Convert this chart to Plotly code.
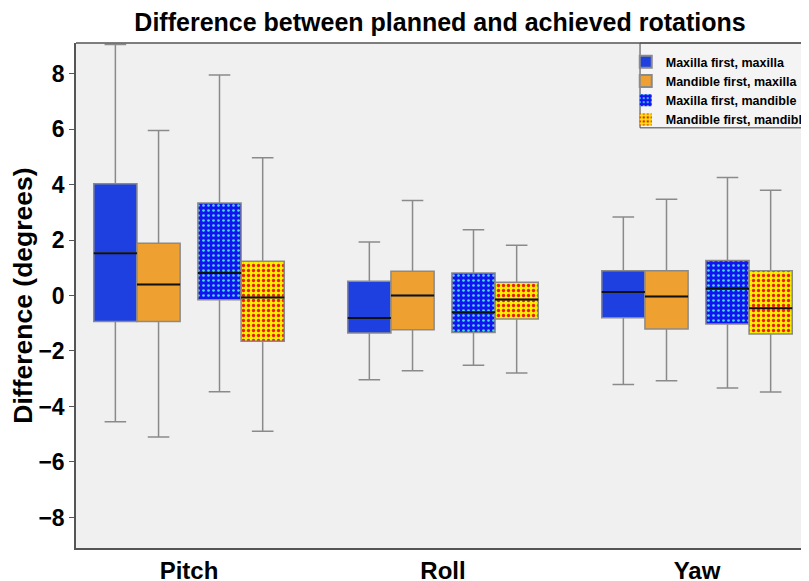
import plotly.graph_objects as go

categories = ["Pitch", "Roll", "Yaw"]
series_names = ["Maxilla first, maxilla", "Mandible first, maxilla",
                "Maxilla first, mandible", "Mandible first, mandible"]

# stats per series: [Pitch, Roll, Yaw]
upper = [
    [9.05, 1.93, 2.83],
    [5.95, 3.42, 3.47],
    [7.95, 2.37, 4.25],
    [4.96, 1.81, 3.79],
]
q3 = [
    [4.03, 0.51, 0.89],
    [1.88, 0.87, 0.89],
    [3.33, 0.81, 1.26],
    [1.23, 0.48, 0.89],
]
median = [
    [1.52, -0.81, 0.13],
    [0.40, 0.00, -0.04],
    [0.81, -0.60, 0.24],
    [-0.07, -0.14, -0.46],
]
q1 = [
    [-0.94, -1.35, -0.80],
    [-0.94, -1.23, -1.21],
    [-0.15, -1.33, -1.03],
    [-1.65, -0.85, -1.39],
]
lower = [
    [-4.55, -3.04, -3.21],
    [-5.10, -2.71, -3.07],
    [-3.47, -2.51, -3.33],
    [-4.89, -2.79, -3.48],
]

fills = ["#1f40e0", "#eea030", "#1414f0", "#f4f000"]
dots = [None, None, "#40e0f0", "#f01818"]
solidity = [0, 0, 0.22, 0.35]
offsets = [-0.29, -0.12, 0.12, 0.29]
W = 0.17
FONT = "Arial, Liberation Sans, sans-serif"

fig = go.Figure()

for i in range(4):
    xs = [c + offsets[i] for c in range(len(categories))]
    patterned = dots[i] is not None
    if patterned:
        fig.add_trace(go.Bar(
            x=xs, base=q1[i], y=[a - b for a, b in zip(q3[i], q1[i])],
            width=W, name=series_names[i], showlegend=True,
            marker=dict(color=fills[i],
                        line=dict(width=0),
                        pattern=dict(shape=".", fgcolor=dots[i], bgcolor=fills[i],
                                     size=5, solidity=solidity[i], fillmode="replace")),
            hoverinfo="skip",
        ))
    fig.add_trace(go.Box(
        x=xs, q1=q1[i], median=median[i], q3=q3[i],
        lowerfence=lower[i], upperfence=upper[i],
        width=W, whiskerwidth=0.5,
        fillcolor="rgba(0,0,0,0)" if patterned else fills[i],
        line=dict(color="#8a8a8a", width=1.5),
        name=series_names[i], showlegend=not patterned,
        boxpoints=False,
    ))
    # medians in black
    mx, my = [], []
    for x, m in zip(xs, median[i]):
        mx += [x - W / 2, x + W / 2, None]
        my += [m, m, None]
    fig.add_trace(go.Scatter(x=mx, y=my, mode="lines",
                             line=dict(color="#111111", width=2),
                             showlegend=False, hoverinfo="skip"))

fig.update_layout(
    width=801, height=573,
    margin=dict(l=68, r=0, t=35, b=33, autoexpand=False),
    paper_bgcolor="white", plot_bgcolor="#f0f0f0",
    barmode="overlay", boxmode="overlay",
    font=dict(family=FONT, color="black"),
    title=dict(text="<b>Difference between planned and achieved rotations</b>",
               x=432 / 801, xanchor="center", y=0.975, yanchor="middle",
               font=dict(size=25, family=FONT)),
    legend=dict(x=0.750, xanchor="left",
                y=0.992, yanchor="top",
                bgcolor="rgba(0,0,0,0)", borderwidth=0,
                font=dict(size=12.5, family=FONT, weight="bold"),
                tracegroupgap=0, itemsizing="constant"),
    xaxis=dict(range=[-0.445, 2.441], tickvals=list(range(len(categories))),
               ticktext=categories, showgrid=False, zeroline=False,
               showline=True, linecolor="#555", linewidth=1.5, mirror=False,
               automargin=False,
               tickfont=dict(size=24, family=FONT, weight="bold"), ticks=""),
    yaxis=dict(range=[-9.1, 9.1], tickvals=[-8, -6, -4, -2, 0, 2, 4, 6, 8],
               showgrid=False, zeroline=False,
               showline=True, linecolor="#555", linewidth=1.5,
               ticks="outside", ticklen=5, tickcolor="#555", automargin=False,
               tickfont=dict(size=23, family=FONT, weight="bold"),
               title=dict(text="<b>Difference (degrees)</b>",
                          font=dict(size=26.5, family=FONT), standoff=6)),
)
# legend frame
fig.add_shape(type="rect", xref="paper", yref="paper",
              x0=0.7695, x1=1.02, y0=0.832, y1=1.0, layer="above",
              fillcolor="#f4f4f4", line=dict(color="#444", width=1))
# top border of plot area
fig.add_shape(type="line", xref="paper", yref="paper", x0=0, x1=1, y0=1, y1=1,
              line=dict(color="#555", width=1.5))

fig.write_html("out.html")
